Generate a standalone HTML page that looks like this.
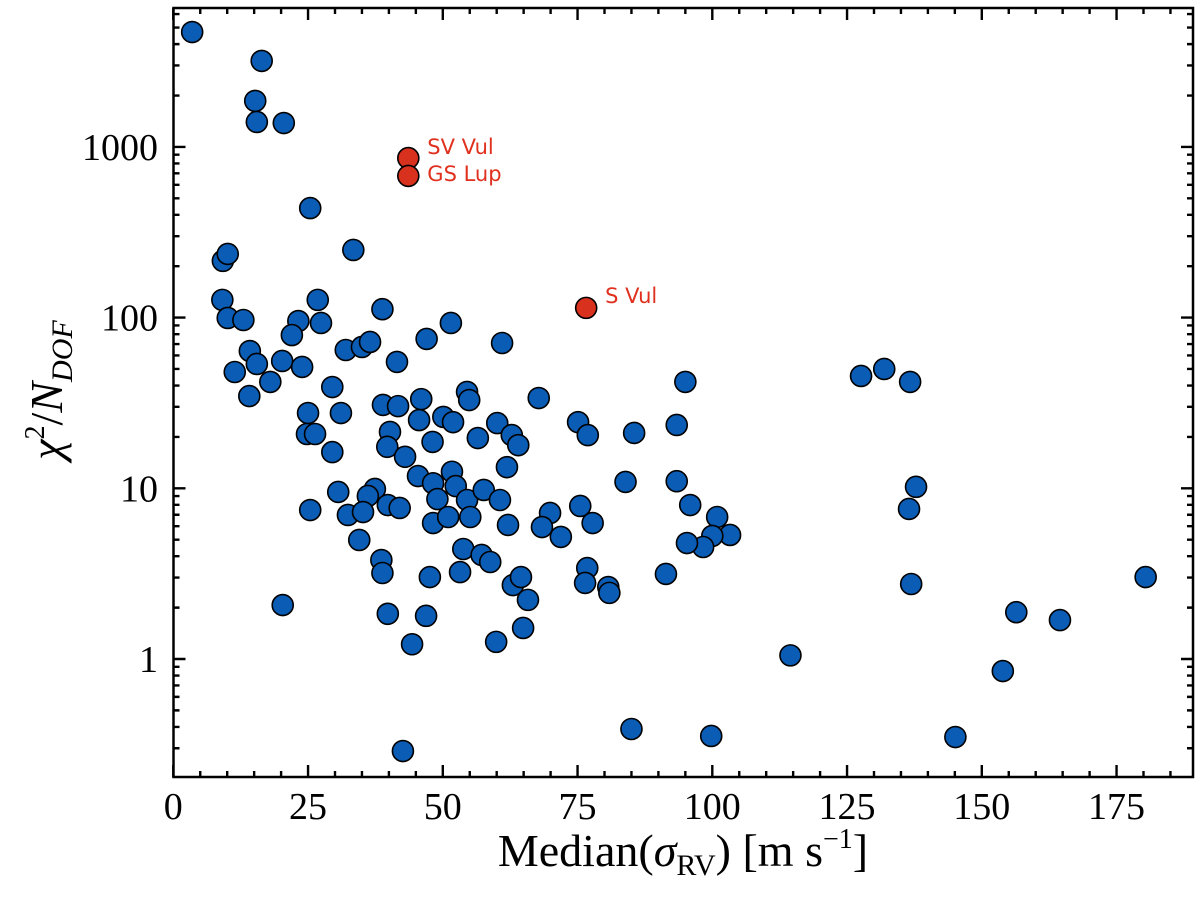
<!DOCTYPE html>
<html><head><meta charset="utf-8"><style>
html,body{margin:0;padding:0;background:#fff;}
svg{display:block;}
.tk{font-family:"Liberation Serif",serif;font-size:38px;fill:#000;}
.ann{font-family:"DejaVu Sans","Liberation Sans",sans-serif;font-size:21px;fill:#e0301e;}
</style></head><body>
<svg id="chart" width="1200" height="903" viewBox="0 0 1200 903" xmlns="http://www.w3.org/2000/svg">
<g id="marks"></g>
<g id="axes"></g>
<text transform="translate(62,390) rotate(-90)" text-anchor="middle" style="font-family:'Liberation Serif',serif;font-size:46px;font-style:italic">χ<tspan dy="-18" font-size="28" font-style="normal">2</tspan><tspan dy="18" font-style="normal">/</tspan>N<tspan dy="10" font-size="30">DOF</tspan></text>
<text x="683" y="866" text-anchor="middle" style="font-family:'Liberation Serif',serif;font-size:46px">Median(<tspan font-style="italic">σ</tspan><tspan dy="9" font-size="30">RV</tspan><tspan dy="-9">) [m s</tspan><tspan dy="-18" font-size="28">−1</tspan><tspan dy="18">]</tspan></text>
</svg>
<script>
const blueX=[3.5,16.4,15.2,15.5,20.5,25.4,9.2,10.1,33.4,9.1,10.1,13.0,26.8,23.2,27.4,22.0,38.8,51.5,47.0,32.0,35.0,36.5,14.2,15.5,20.2,23.9,11.4,18.0,14.1,41.5,29.5,25.0,31.1,24.8,26.3,29.5,38.9,41.7,46.0,45.6,50.1,51.9,54.5,54.9,40.2,39.7,48.1,56.5,43.0,45.4,48.2,51.7,52.4,49.0,54.5,57.6,60.6,61.9,30.6,37.4,36.1,25.4,32.4,35.2,39.8,42.0,48.2,51.0,55.1,62.1,34.5,38.6,38.8,47.6,53.2,53.8,57.2,58.8,63.0,64.5,65.8,64.9,59.9,39.8,46.9,44.3,75.5,77.8,69.9,68.4,71.9,76.8,76.4,61.0,95.0,67.8,75.1,76.9,85.5,93.4,60.1,62.8,64.0,83.9,93.4,95.9,100.9,103.3,100.0,98.3,95.3,80.7,80.9,91.4,114.5,153.9,156.4,164.5,180.4,85.0,99.8,145.1,42.6,20.3,127.6,131.9,136.7,136.5,137.8,136.9];
const blueY=[4710,3190,1860,1400,1380,438,215,236,249,127,99.5,96.8,127,95.5,93,79,112,93,75,64.6,67.3,72,63.7,53.5,55.7,51.4,48,42,34.7,55,39.2,27.6,27.6,20.8,20.8,16.3,30.8,30.3,33.3,25.1,26.2,24.4,36.7,32.9,21.4,17.5,18.7,19.7,15.3,11.8,10.7,12.5,10.3,8.65,8.54,9.78,8.54,13.3,9.52,9.91,9.02,7.46,6.98,7.26,7.98,7.67,6.26,6.79,6.79,6.10,4.98,3.80,3.19,3.02,3.23,4.41,4.07,3.70,2.71,3.02,2.22,1.52,1.26,1.84,1.79,1.22,7.88,6.26,7.17,5.93,5.19,3.41,2.79,71,42,33.8,24.4,20.5,21.1,23.5,24.1,20.5,17.9,10.9,11.0,7.98,6.79,5.33,5.26,4.53,4.78,2.64,2.44,3.15,1.05,0.85,1.88,1.69,3.02,0.389,0.354,0.349,0.289,2.07,45.5,50,42,7.57,10.2,2.75];
const redNames=["SV Vul","GS Lup","S Vul"];
const redX=[43.6,43.6,76.6];
const redY=[860,676,114];
const xTicks=[0,25,50,75,100,125,150,175];
const yTicks=[1,10,100,1000];
const yTickLabels=["1","10","100","1000"];

const L=173.5,R=1193,T=8,B=777;
const xs=v=>173.3+v*5.39;
const ys=v=>659-Math.log10(v)*170.7;
const NS="http://www.w3.org/2000/svg";
function mk(tag,parent,attrs){const e=document.createElementNS(NS,tag);for(const k in attrs)e.setAttribute(k,attrs[k]);parent.appendChild(e);return e;}
const marks=document.getElementById('marks');
const axes=document.getElementById('axes');
for(let i=0;i<blueX.length;i++){
  const c=mk('circle',marks,{cx:xs(blueX[i]),cy:ys(blueY[i]),r:10.5,fill:'#0a5cb5',stroke:'#000','stroke-width':1.6});
  
  
}
const annDx=[19,19,19],annDy=[-4,5,-5];
for(let i=0;i<redX.length;i++){
  const c=mk('circle',marks,{cx:xs(redX[i]),cy:ys(redY[i]),r:10.5,fill:'#d8321e',stroke:'#000','stroke-width':1.6});
  
  
  const t=mk('text',marks,{x:xs(redX[i])+annDx[i],y:ys(redY[i])+annDy[i],class:'ann'});
  t.textContent=redNames[i];
  
  
}
const frame=mk('rect',axes,{x:L,y:T,width:R-L,height:B-T,fill:'none',stroke:'#000','stroke-width':2.5});


let d='';
for(let v=0;v<=185;v+=5){
  const x=xs(v);const len=(v%25===0)?12:6;
  d+=`M${x},${B}v${-len}M${x},${T}v${len}`;
}
for(let dec=-1;dec<=3;dec++){
  for(let m=1;m<10;m++){
    const v=m*Math.pow(10,dec);const y=ys(v);
    if(y<T||y>B)continue;
    const len=(m===1)?12:6;
    d+=`M${L},${y}h${len}M${R},${y}h${-len}`;
  }
}
const tp=mk('path',axes,{d:d,stroke:'#000','stroke-width':2.4,fill:'none'});


xTicks.forEach(v=>{
  const t=mk('text',axes,{x:xs(v),y:819,'text-anchor':'middle',class:'tk'});
  t.textContent=String(v);
  
  
});
yTicks.forEach((v,i)=>{
  const t=mk('text',axes,{x:158,y:ys(v)+13,'text-anchor':'end',class:'tk'});
  t.textContent=yTickLabels[i];
  
  
});
</script>
</body></html>
